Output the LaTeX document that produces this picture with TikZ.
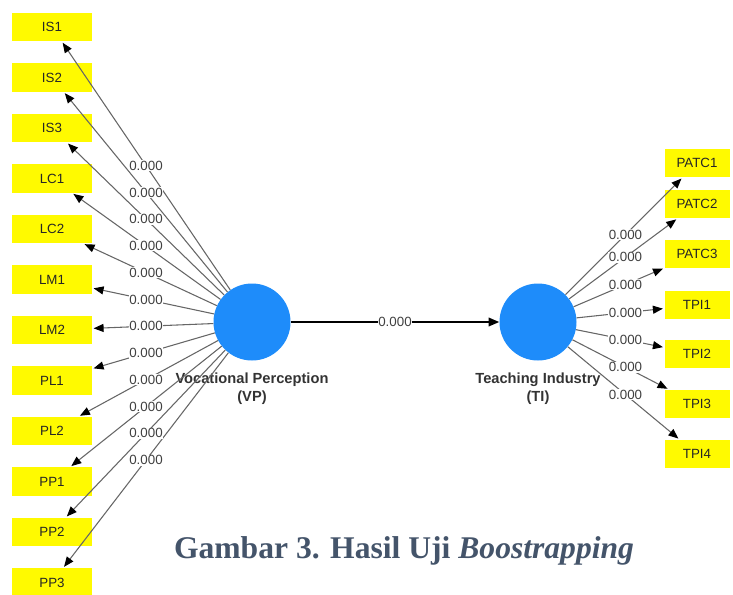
\documentclass[tikz,border=0pt]{standalone}
\usepackage{fontspec}
\setmainfont{Liberation Serif}
\setsansfont{Liberation Sans}
\usetikzlibrary{positioning,calc,arrows.meta}
\definecolor{lvblue}{RGB}{30,140,250}
\definecolor{capblue}{RGB}{68,84,106}
\definecolor{boxyellow}{RGB}{255,250,0}
\tikzset{indicator/.style = {fill=boxyellow,inner sep=0pt,minimum height=21.5pt,font=\sffamily\fontsize{10}{12}\selectfont,text=black!85},
         lv/.style = {circle,fill=lvblue,minimum size=57.75pt,inner sep=0pt},
         lvname/.style = {align=center,inner sep=1pt,font=\sffamily\bfseries\fontsize{11}{13.5}\selectfont,text=black!80},
         val/.style = {fill=white,inner sep=0.6pt,font=\sffamily\fontsize{10}{12}\selectfont,text=black!75},
         loading/.style = {draw=black!60,line width=0.8pt,-{Triangle[length=7.5pt,width=6pt,color=black]},shorten >=1pt}}

\begin{document}
\begin{tikzpicture}[x=0.75pt,y=-0.75pt]
        \useasboundingbox (0,0) rectangle (733,594);
        % latent variables
        \node[lv] (VP) at (252,322) {};
        \node[lv] (TI) at (538,322) {};
        \node[lvname, below=8pt of VP] {Vocational Perception\\(VP)};
        \node[lvname, below=8pt of TI] {Teaching Industry\\(TI)};
        % indicators
        \foreach \name [count=\i from 0] in {IS1,IS2,IS3,LC1,LC2,LM1,LM2,PL1,PL2,PP1,PP2,PP3}
            \node[indicator, minimum width=60pt] (\name) at (52,{27+50.5*\i}) {\name};
        \foreach \name/\y in {PATC1/163,PATC2/204,PATC3/254,TPI1/305,TPI2/354,TPI3/404,TPI4/454}
            \node[indicator, minimum width=48.75pt] (\name) at (697,\y) {\name};
        % outer loadings
        \foreach \name in {IS1,IS2,IS3,LC1,LC2,LM1,LM2,PL1,PL2,PP1,PP2,PP3}
            \draw[loading] (VP) -- (\name);
        \foreach \name in {PATC1,PATC2,PATC3,TPI1,TPI2,TPI3,TPI4}
            \draw[loading] (TI) -- (\name);
        \foreach \name in {IS1,IS2,IS3,LC1,LC2,LM1,LM2,PL1,PL2,PP1,PP2,PP3}
            \node[val] at ($(VP)!0.53!(\name)$) {0.000};
        \foreach \name in {PATC1,PATC2,PATC3,TPI1,TPI2,TPI3,TPI4}
            \node[val] at ($(TI)!0.55!(\name)$) {0.000};
        % inner path
        \draw[line width=1.2pt,-{Triangle[length=8pt,width=6.5pt]}] (VP) -- node[val] {0.000} (TI);
        % caption
        \node[text=capblue,font=\bfseries\fontsize{23.7}{28}\selectfont] (caption) at (404,551) {Gambar 3. Hasil Uji \textit{Boostrapping}};
\end{tikzpicture}
\end{document}
